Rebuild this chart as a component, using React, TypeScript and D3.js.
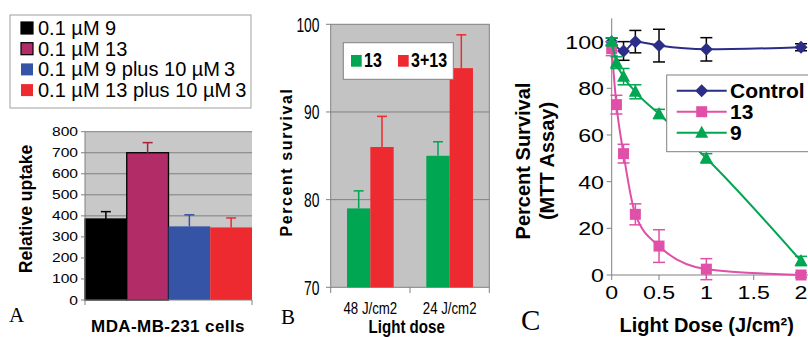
import React from 'react';
import * as d3 from 'd3';

// Panel A: relative uptake in MDA-MB-231 cells
const uptakeLabels = ['0.1 µM 9', '0.1 µM 13', '0.1 µM 9 plus 10 µM\u20093', '0.1 µM 13 plus 10 µM\u20093'];
const uptakeValues = [385, 700, 350, 345];
const uptakeErrors = [35, 48, 55, 45];
const uptakeColors = ['#000000', '#b22d68', '#3654a5', '#ec2a2f'];
const uptakeErrColors = ['#000000', '#a8203c', '#3654a5', '#ec2a2f'];
const uptakeTicks = [0, 100, 200, 300, 400, 500, 600, 700, 800];

// Panel B: percent survival vs light dose
const doseCats = ['48 J/cm2', '24 J/cm2'];
const bSeries = ['13', '3+13'];
const surv13 = [79, 85];
const surv13Err = [2, 1.6];
const surv313 = [86, 95];
const surv313Err = [3.5, 3.8];
const bColors = ['#00a651', '#ec2a2f'];
const bTicks = [70, 80, 90, 100];

// Panel C: MTT assay
const ctrlDose = [0, 0.125, 0.25, 0.5, 1, 2];
const ctrlSurv = [100, 96, 100, 98.3, 96.7, 97.6];
const ctrlErr = [1.5, 4, 4.8, 7, 5, 1.5];
const dose13 = [0, 0.05, 0.125, 0.25, 0.5, 1, 2];
const surv13C = [97, 73, 52, 26, 12.4, 2.5, 0];
const err13C = [3, 4, 4, 4.5, 7, 4.5, 1];
const dose9 = [0, 0.05, 0.125, 0.25, 0.5, 1, 2];
const surv9 = [100, 91, 85, 78.5, 69, 50, 6];
const err9 = [1.5, 2.5, 3.5, 3, 2, 2, 2];
const cNames = ['Control', '13', '9'];
const cColors = ['#2b2d86', '#e050a8', '#00a651'];
const cErrColors = ['#000000', '#e050a8', '#00a651'];
const cXTicks = [0, 0.5, 1, 1.5, 2];
const cYTicks = [0, 20, 40, 60, 80, 100];

const SANS = '"Liberation Sans", Arial, sans-serif';
const SERIF = '"Liberation Serif", "Times New Roman", serif';
const GRID = '#808080';

// text that can be squeezed / stretched horizontally like the scanned figure
const T = ({ x, y, sx = 1, anchor = 'start', size, bold = false, rot = false, ls = 0, fill = '#000', family = SANS, children }: any) => (
  <text
    transform={`translate(${x},${y})${rot ? ' rotate(-90)' : ''} scale(${sx},1)`}
    textAnchor={anchor}
    fontSize={size}
    fontWeight={bold ? 'bold' : 'normal'}
    fontFamily={family}
    letterSpacing={ls}
    fill={fill}
  >
    {children}
  </text>
);

const marker = (kind: number, color: string) => {
  if (kind === 0) return <path d="M0,-6.5L6.5,0L0,6.5L-6.5,0Z" fill={color} />;
  if (kind === 1) return <rect x={-5.5} y={-5.5} width={11} height={11} fill={color} />;
  return <path d="M0,-7L6.5,5L-6.5,5Z" fill={color} />;
};

function PanelA() {
  const x = d3.scaleBand<number>().domain(d3.range(uptakeValues.length)).range([85, 252]).padding(0);
  const y = d3.scaleLinear().domain([0, 800]).range([300, 131.7]);
  return (
    <g>
      {/* legend */}
      <rect x={10} y={15} width={241} height={93} fill="#fff" stroke="#a0a0a0" />
      {uptakeLabels.map((l, i) => {
        const cy = 28 + i * 20.7;
        return (
          <g key={l}>
            <rect x={21} y={cy - 6} width={12} height={12} fill={uptakeColors[i]} stroke={i < 2 ? '#000' : 'none'} strokeWidth={1.2} />
            <T x={38} y={cy + 7} size={20}>{l}</T>
          </g>
        );
      })}
      {/* plot area */}
      <rect x={85} y={y(800)} width={167} height={y(0) - y(800)} fill="#c8c8c8" />
      {uptakeTicks.slice(1).map(t => (
        <line key={t} x1={85} x2={252} y1={y(t)} y2={y(t)} stroke={GRID} />
      ))}
      {uptakeValues.map((v, i) => (
        <rect key={i} x={x(i)} y={y(v)} width={x.bandwidth()} height={y(0) - y(v)} fill={uptakeColors[i]}
          stroke={i < 2 ? '#000' : 'none'} strokeWidth={1.3} />
      ))}
      {uptakeValues.map((v, i) => {
        const cx = (x(i) as number) + x.bandwidth() / 2;
        return (
          <g key={i} stroke={uptakeErrColors[i]} strokeWidth={1.5}>
            <line x1={cx} x2={cx} y1={y(v)} y2={y(v + uptakeErrors[i])} />
            <line x1={cx - 5} x2={cx + 5} y1={y(v + uptakeErrors[i])} y2={y(v + uptakeErrors[i])} />
          </g>
        );
      })}
      <line x1={85} x2={85} y1={y(800)} y2={y(0)} stroke={GRID} />
      <line x1={85} x2={252} y1={y(0)} y2={y(0)} stroke={GRID} />
      <line x1={85} x2={85} y1={y(0)} y2={y(0) + 5} stroke={GRID} />
      <line x1={252} x2={252} y1={y(0)} y2={y(0) + 5} stroke={GRID} />
      {uptakeTicks.map(t => (
        <g key={t}>
          <line x1={81} x2={85} y1={y(t)} y2={y(t)} stroke={GRID} />
          <T x={78} y={y(t) + 4.5} size={13} sx={1.2} anchor="end">{t}</T>
        </g>
      ))}
      <T x={32} y={209} size={17.5} bold rot anchor="middle">Relative uptake</T>
      <T x={9} y={322} size={21} family={SERIF}>A</T>
      <T x={168} y={332} size={17} bold anchor="middle" ls={0.4}>MDA-MB-231 cells</T>
    </g>
  );
}

function PanelB() {
  const x = d3.scaleBand<string>().domain(doseCats).range([330.7, 489.3]).padding(0);
  const inner = d3.scaleBand<string>().domain(bSeries).range([0, x.bandwidth()]).paddingInner(0).paddingOuter(0.7);
  const y = d3.scaleLinear().domain([70, 100]).range([287.3, 24.3]);
  const series = [
    { name: bSeries[0], vals: surv13, errs: surv13Err, color: bColors[0] },
    { name: bSeries[1], vals: surv313, errs: surv313Err, color: bColors[1] },
  ];
  return (
    <g>
      <rect x={330.7} y={y(100)} width={158.6} height={y(70) - y(100)} fill="#c3c3c3" stroke={GRID} />
      {bTicks.slice(1, -1).map(t => (
        <line key={t} x1={330.7} x2={489.3} y1={y(t)} y2={y(t)} stroke={GRID} />
      ))}
      {series.map(s =>
        doseCats.map((c, i) => {
          const bx = (x(c) as number) + (inner(s.name) as number);
          const cx = bx + inner.bandwidth() / 2;
          const top = y(s.vals[i] + s.errs[i]);
          return (
            <g key={s.name + c}>
              <rect x={bx} y={y(s.vals[i])} width={inner.bandwidth()} height={y(70) - y(s.vals[i])} fill={s.color} />
              <line x1={cx} x2={cx} y1={y(s.vals[i])} y2={top} stroke={s.color} strokeWidth={1.5} />
              <line x1={cx - 5} x2={cx + 5} y1={top} y2={top} stroke={s.color} strokeWidth={1.5} />
            </g>
          );
        })
      )}
      {bTicks.map(t => (
        <g key={t}>
          <line x1={326} x2={330.7} y1={y(t)} y2={y(t)} stroke={GRID} />
          <T x={319.5} y={y(t) + 7.5} size={21} sx={0.66} anchor="end">{t}</T>
        </g>
      ))}
      {[330.7, 410, 489.3].map(v => (
        <line key={v} x1={v} x2={v} y1={287.3} y2={293} stroke={GRID} />
      ))}
      {doseCats.map(c => (
        <T key={c} x={(x(c) as number) + x.bandwidth() / 2} y={314} size={17} sx={0.78} anchor="middle">{c}</T>
      ))}
      {/* legend */}
      <rect x={343.3} y={42.7} width={110} height={36.6} fill="#fff" stroke={GRID} />
      <rect x={351} y={55} width={10.7} height={11.7} fill={bColors[0]} />
      <T x={364} y={66.7} size={20} bold sx={0.8}>{bSeries[0]}</T>
      <rect x={398} y={55} width={10.7} height={11.7} fill={bColors[1]} />
      <T x={411} y={66.7} size={20} bold sx={0.8}>{bSeries[1]}</T>
      <T x={292} y={162} size={16} bold rot anchor="middle" ls={1.6}>Percent survival</T>
      <T x={406.7} y={333} size={18} bold sx={0.84} anchor="middle">Light dose</T>
      <T x={281} y={324} size={21} family={SERIF}>B</T>
    </g>
  );
}

function PanelC() {
  const x = d3.scaleLinear().domain([0, 2]).range([611.7, 801]);
  const y = d3.scaleLinear().domain([0, 110]).range([275, 18.3]);
  const series = [
    { xs: ctrlDose, ys: ctrlSurv, es: ctrlErr },
    { xs: dose13, ys: surv13C, es: err13C },
    { xs: dose9, ys: surv9, es: err9 },
  ];
  const line = d3.line<[number, number]>().x(d => x(d[0])).y(d => y(d[1])).curve(d3.curveMonotoneX);
  return (
    <g>
      <line x1={611.7} x2={611.7} y1={18.3} y2={275} stroke={GRID} />
      <line x1={611.7} x2={810} y1={275} y2={275} stroke={GRID} />
      {cYTicks.map(t => (
        <g key={t}>
          <line x1={606.7} x2={611.7} y1={y(t)} y2={y(t)} stroke={GRID} />
          <T x={604} y={y(t) + 7} size={19} sx={1.22} anchor="end">{t}</T>
        </g>
      ))}
      {cXTicks.map(t => (
        <g key={t}>
          <line x1={x(t)} x2={x(t)} y1={275} y2={280} stroke={GRID} />
          <T x={x(t)} y={298.5} size={19} sx={1.22} anchor="middle">{t}</T>
        </g>
      ))}
      {series.map((s, k) => (
        <g key={k}>
          <path d={line(s.xs.map((v, i) => [v, s.ys[i]] as [number, number])) as string} fill="none" stroke={cColors[k]} strokeWidth={2} />
          {s.xs.map((v, i) => {
            const cx = x(v);
            const lo = y(s.ys[i] - s.es[i]);
            const hi = y(s.ys[i] + s.es[i]);
            return (
              <g key={i} stroke={cErrColors[k]} strokeWidth={1.5}>
                <line x1={cx} x2={cx} y1={lo} y2={hi} />
                <line x1={cx - 6} x2={cx + 6} y1={lo} y2={lo} />
                <line x1={cx - 6} x2={cx + 6} y1={hi} y2={hi} />
              </g>
            );
          })}
          {s.xs.map((v, i) => (
            <g key={'m' + i} transform={`translate(${x(v)},${y(s.ys[i])})`}>{marker(k, cColors[k])}</g>
          ))}
        </g>
      ))}
      {/* legend */}
      <rect x={666.7} y={75} width={150} height={76.7} fill="#fff" stroke={GRID} />
      {cNames.map((n, k) => {
        const ly = 90.7 + k * 21;
        return (
          <g key={n}>
            <line x1={676.7} x2={726.7} y1={ly} y2={ly} stroke={cColors[k]} strokeWidth={2} />
            <g transform={`translate(701.7,${ly})`}>{marker(k, cColors[k])}</g>
            <T x={730} y={ly + 7.5} size={21} bold>{n}</T>
          </g>
        );
      })}
      <T x={530} y={161} size={20} bold rot anchor="middle">Percent Survival</T>
      <T x={554} y={161} size={20} bold rot anchor="middle">(MTT Assay)</T>
      <T x={706.7} y={332} size={20} bold anchor="middle">Light Dose (J/cm²)</T>
      <T x={521} y={330} size={29} family={SERIF}>C</T>
    </g>
  );
}

export default function App() {
  return (
    <svg width={808} height={337} style={{ position: 'absolute', left: 0, top: 0, background: '#fff' }}>
      <PanelA />
      <PanelB />
      <PanelC />
    </svg>
  );
}
